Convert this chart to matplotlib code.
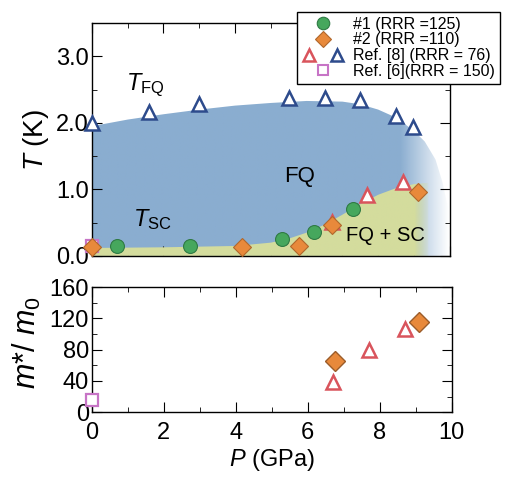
import matplotlib.pyplot as plt
import numpy as np
from matplotlib.colors import to_rgb
from matplotlib.legend_handler import HandlerTuple

plt.rcParams['font.family'] = ['Liberation Sans', 'DejaVu Sans']
plt.rcParams['mathtext.fontset'] = 'custom'
plt.rcParams['mathtext.rm'] = 'Liberation Sans'
plt.rcParams['mathtext.it'] = 'Liberation Sans:italic'
plt.rcParams['xtick.direction'] = 'in'
plt.rcParams['ytick.direction'] = 'in'

# amostra #1 (RRR = 125): T_SC
p_s1 = [0.7, 2.75, 5.3, 6.2, 7.3]
tsc_s1 = [0.15, 0.15, 0.25, 0.36, 0.70]

# amostra #2 (RRR = 110): T_SC e massa efetiva
p_s2 = [0.0, 4.2, 5.8, 6.7, 9.1]
tsc_s2 = [0.14, 0.14, 0.15, 0.47, 0.96]
p_s2_m = [6.75, 9.1]
m_s2 = [65, 115]

# Ref. [8] (RRR = 76): T_SC, T_FQ e massa efetiva
p_r8_sc = [6.7, 7.7, 8.7]
tsc_r8 = [0.51, 0.91, 1.11]
p_r8_fq = [0.0, 1.6, 3.0, 5.5, 6.5, 7.5, 8.5, 8.97]
tfq_r8 = [2.00, 2.16, 2.29, 2.37, 2.37, 2.35, 2.10, 1.94]
p_r8_m = [6.7, 7.7, 8.7]
m_r8 = [38, 79, 107]

# Ref. [6] (RRR = 150)
p_r6 = [0.0]
tsc_r6 = [0.15]
m_r6 = [16]

# contornos das regiões do diagrama de fases
p_fq_edge = [0.0, 1.0, 2.0, 3.0, 4.0, 5.0, 6.0, 7.0, 7.5, 8.0, 8.5, 9.0, 9.3, 9.6, 9.8, 10.0]
t_fq_edge = [1.95, 2.05, 2.13, 2.20, 2.26, 2.30, 2.33, 2.32, 2.28, 2.20, 2.08, 1.88, 1.72, 1.45, 1.1, 0.6]
p_sc_edge = [0.0, 2.0, 4.0, 5.0, 5.5, 6.0, 6.5, 7.0, 7.5, 8.0, 8.5, 9.0, 9.4]
t_sc_edge = [0.12, 0.13, 0.15, 0.20, 0.26, 0.35, 0.47, 0.62, 0.78, 0.92, 1.02, 1.08, 1.10]

cor_azul = '#8aadd0'
cor_verde = '#d4dc9d'
cor_circ = '#46a75d'
cor_diam = '#e8893b'
cor_tri_v = '#d9545c'
cor_tri_a = '#2d4b8c'
cor_quad = '#c774c6'

fig = plt.figure(figsize=(5.10, 4.82), dpi=100)
ax1 = fig.add_axes([0.180, 0.469, 0.702, 0.483])
ax2 = fig.add_axes([0.180, 0.145, 0.706, 0.259])


def regiao_gradiente(ax, px, ptop, pbot, cor, x0, x1, z):
    # preenche a região e desbota para branco entre x0 e x1
    poly = ax.fill_between(px, pbot, ptop, facecolor='none', edgecolor='none', zorder=z)
    xs = np.linspace(0, 10, 400)
    alpha = np.clip((x1 - xs) / (x1 - x0), 0, 1)
    img = np.zeros((2, len(xs), 4))
    img[..., :3] = to_rgb(cor)
    img[..., 3] = alpha
    im = ax.imshow(img, extent=[0, 10, 0, 3.5], origin='lower', aspect='auto',
                   interpolation='bilinear', zorder=z)
    im.set_clip_path(poly.get_paths()[0], transform=ax.transData)


regiao_gradiente(ax1, p_fq_edge, t_fq_edge, np.zeros(len(p_fq_edge)), cor_azul, 8.6, 9.95, 1)
regiao_gradiente(ax1, p_sc_edge, t_sc_edge, np.zeros(len(p_sc_edge)), cor_verde, 9.0, 9.45, 2)

ms = 10
ax1.plot(p_r8_fq, tfq_r8, '^', ms=ms, mfc='white', mec=cor_tri_a, mew=1.8, ls='none', zorder=5, clip_on=False)
ax1.plot(p_r8_sc, tsc_r8, '^', ms=ms, mfc='white', mec=cor_tri_v, mew=1.8, ls='none', zorder=5, clip_on=False)
ax1.plot(p_r6, tsc_r6, 's', ms=8, mfc='white', mec=cor_quad, mew=1.6, ls='none', zorder=5, clip_on=False)
ax1.plot(p_s2, tsc_s2, 'D', ms=9, mfc=cor_diam, mec='#b0672c', mew=0.8, ls='none', zorder=6, clip_on=False)
ax1.plot(p_s1, tsc_s1, 'o', ms=10, mfc=cor_circ, mec='#2f7a44', mew=0.8, ls='none', zorder=6, clip_on=False)

ax1.text(1.5, 2.57, r'$T_{\mathrm{FQ}}$', fontsize=17, ha='center', va='center')
ax1.text(1.7, 0.55, r'$T_{\mathrm{SC}}$', fontsize=17, ha='center', va='center')
ax1.text(5.8, 1.2, 'FQ', fontsize=16, ha='center', va='center', zorder=7)
ax1.text(8.2, 0.3, 'FQ + SC', fontsize=14.5, ha='center', va='center', zorder=7)

ax1.set_xlim(0, 10)
ax1.set_ylim(0, 3.5)
ax1.set_xticks([0, 2, 4, 6, 8, 10])
ax1.set_xticks(np.arange(0, 10.1, 1), minor=True)
ax1.set_yticks([0.0, 1.0, 2.0, 3.0])
ax1.set_yticks(np.arange(0, 3.51, 0.5), minor=True)
ax1.set_yticklabels(['0.0', '1.0', '2.0', '3.0'])
ax1.tick_params(labelbottom=False, top=True, right=True, which='both', labelsize=17, pad=2)
ax1.tick_params(which='major', length=7)
ax1.tick_params(which='minor', length=3.5)
ax1.set_ylabel(r'$T$ (K)', fontsize=20, labelpad=4)

# painel inferior: massa efetiva
ax2.plot(p_r6, m_r6, 's', ms=8, mfc='white', mec=cor_quad, mew=1.6, ls='none', zorder=5, clip_on=False)
ax2.plot(p_r8_m, m_r8, '^', ms=10, mfc='white', mec=cor_tri_v, mew=1.8, ls='none', zorder=5, clip_on=False)
ax2.plot(p_s2_m, m_s2, 'D', ms=10, mfc=cor_diam, mec='#9b5c2a', mew=1.0, ls='none', zorder=6, clip_on=False)

ax2.set_xlim(0, 10)
ax2.set_ylim(0, 160)
ax2.set_xticks([0, 2, 4, 6, 8, 10])
ax2.set_xticks(np.arange(0, 10.1, 1), minor=True)
ax2.set_yticks([0, 40, 80, 120, 160])
ax2.set_yticks(np.arange(0, 161, 20), minor=True)
ax2.tick_params(top=True, right=True, which='both', labelsize=17, pad=2)
ax2.tick_params(axis='x', which='major', pad=7)
ax2.tick_params(which='major', length=7)
ax2.tick_params(which='minor', length=3.5)
ax2.set_xlabel(r'$P$ (GPa)', fontsize=17, labelpad=2)
ax2.set_ylabel(r'$m$*/ $m_0$', fontsize=22)
ax2.yaxis.set_label_coords(-0.135, 0.56)

for ax in (ax1, ax2):
    for s in ax.spines.values():
        s.set_linewidth(1.0)

# legenda
h1, = ax1.plot([], [], 'o', ms=9, mfc=cor_circ, mec='#2f7a44', mew=0.8, ls='none')
h2, = ax1.plot([], [], 'D', ms=8, mfc=cor_diam, mec='#b0672c', mew=0.8, ls='none')
h3a, = ax1.plot([], [], '^', ms=9, mfc='white', mec=cor_tri_v, mew=1.8, ls='none')
h3b, = ax1.plot([], [], '^', ms=9, mfc='white', mec=cor_tri_a, mew=1.8, ls='none')
h4, = ax1.plot([], [], 's', ms=7, mfc='white', mec=cor_quad, mew=1.5, ls='none')
leg = fig.legend([h1, h2, (h3a, h3b), h4],
                 ['#1 (RRR =125)', '#2 (RRR =110)', 'Ref. [8] (RRR = 76)', 'Ref. [6](RRR = 150)'],
                 handler_map={tuple: HandlerTuple(ndivide=None, pad=0.8)},
                 loc='upper right', bbox_to_anchor=(0.996, 0.992), fontsize=11.5,
                 fancybox=False, edgecolor='black', framealpha=1,
                 handlelength=2.6, handletextpad=0.6, labelspacing=0.05,
                 borderpad=0.3)
leg.get_frame().set_linewidth(1.0)

fig.savefig('out.png', dpi=100)
